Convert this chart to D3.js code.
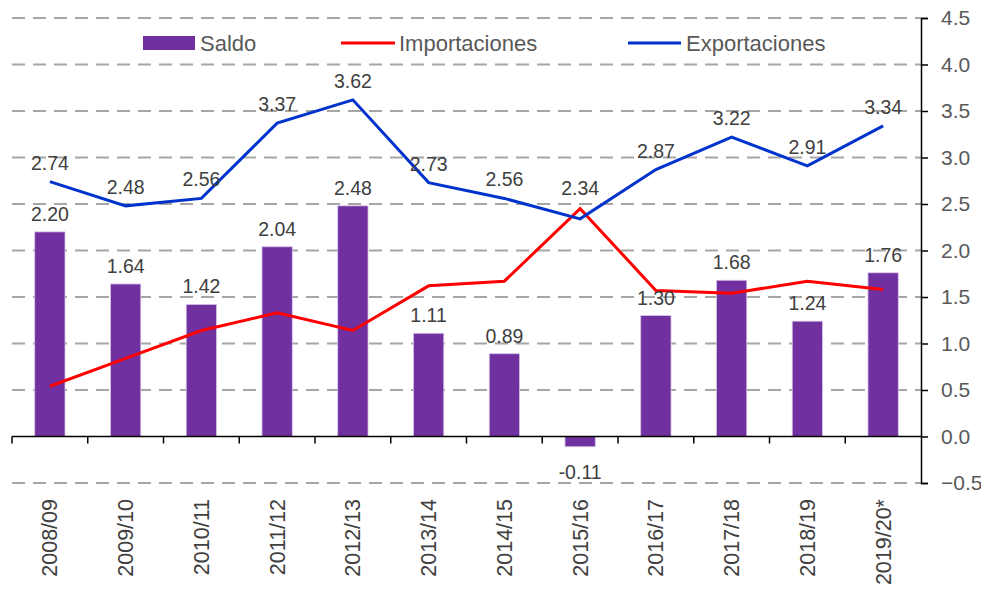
<!DOCTYPE html>
<html>
<head>
<meta charset="utf-8">
<script src="https://cdn.jsdelivr.net/npm/d3@7"></script>
<style>
  body { margin: 0; background: #fff; }
  text { font-family: "Liberation Sans", Arial, sans-serif; }
</style>
</head>
<body>
<div id="chart"></div>
<script>
// Data
const years = ["2008/09", "2009/10", "2010/11", "2011/12", "2012/13", "2013/14",
               "2014/15", "2015/16", "2016/17", "2017/18", "2018/19", "2019/20*"];
const saldo = [2.20, 1.64, 1.42, 2.04, 2.48, 1.11, 0.89, -0.11, 1.30, 1.68, 1.24, 1.76];
const importaciones = [0.54, 0.84, 1.14, 1.33, 1.14, 1.62, 1.67, 2.45, 1.57, 1.54, 1.67, 1.58];
const exportaciones = [2.74, 2.48, 2.56, 3.37, 3.62, 2.73, 2.56, 2.34, 2.87, 3.22, 2.91, 3.34];
const yTicks = [-0.5, 0, 0.5, 1, 1.5, 2, 2.5, 3, 3.5, 4, 4.5];

const width = 981, height = 592;
const plot = {left: 12, right: 921, top: 18, bottom: 483};

const svg = d3.select("#chart")
    .append("svg")
    .attr("width", width)
    .attr("height", height);

// Scales
const x = d3.scaleBand()
    .domain(years)
    .range([plot.left, plot.right])
    .paddingInner(0.6)
    .paddingOuter(0.3);

const y = d3.scaleLinear()
    .domain([-0.5, 4.5])
    .range([plot.bottom, plot.top]);

const cx = d => x(d) + x.bandwidth() / 2;

// Dashed gridlines (skip zero, that is the category axis)
svg.append("g")
    .selectAll("line")
    .data(yTicks.filter(t => t !== 0))
    .enter()
    .append("line")
    .attr("x1", plot.left)
    .attr("x2", plot.right)
    .attr("y1", d => y(d))
    .attr("y2", d => y(d))
    .attr("stroke", "#a6a6a6")
    .attr("stroke-width", 2)
    .attr("stroke-dasharray", "13,8");

// Bars
svg.append("g")
    .selectAll("rect")
    .data(years)
    .enter()
    .append("rect")
    .attr("x", d => x(d))
    .attr("y", (d, i) => y(Math.max(0, saldo[i])))
    .attr("width", x.bandwidth())
    .attr("height", (d, i) => Math.abs(y(saldo[i]) - y(0)))
    .attr("fill", "#7030a0")
    .attr("stroke", "#d8c4e6")
    .attr("stroke-width", 0.8);

// Category axis at zero
const step = x.step();
const xAxis = svg.append("g");
xAxis.append("line")
    .attr("x1", plot.left)
    .attr("x2", plot.right)
    .attr("y1", y(0))
    .attr("y2", y(0))
    .attr("stroke", "#000")
    .attr("stroke-width", 1.5);
xAxis.selectAll(".tick")
    .data(years)
    .enter()
    .append("line")
    .attr("x1", d => x(d) - step * 0.3)
    .attr("x2", d => x(d) - step * 0.3)
    .attr("y1", y(0))
    .attr("y2", y(0) + 7)
    .attr("stroke", "#000")
    .attr("stroke-width", 1.5);

// Category labels, rotated
svg.append("g")
    .selectAll("text")
    .data(years)
    .enter()
    .append("text")
    .attr("transform", d => `translate(${cx(d)},499)rotate(-90)`)
    .attr("dy", "0.35em")
    .attr("text-anchor", "end")
    .attr("fill", "#404040")
    .style("font-size", "21.5px")
    .text(d => d);

// Right value axis
const yAxis = d3.axisRight(y)
    .tickValues(yTicks)
    .tickSize(7)
    .tickPadding(13)
    .tickFormat(d3.format(".1f"));

const gy = svg.append("g")
    .attr("transform", `translate(${plot.right},0)`)
    .call(yAxis);
gy.select(".domain").attr("stroke", "#000").attr("stroke-width", 1.5);
gy.selectAll(".tick line").attr("stroke", "#000").attr("stroke-width", 1.5);
gy.selectAll(".tick text")
    .attr("fill", "#595959")
    .style("font-size", "21px")
    .style("font-family", "Liberation Sans, Arial, sans-serif");

// Lines
const line = d3.line()
    .x((d, i) => cx(years[i]))
    .y(d => y(d));

svg.append("path")
    .datum(importaciones)
    .attr("d", line)
    .attr("fill", "none")
    .attr("stroke", "#ff0000")
    .attr("stroke-width", 3);

svg.append("path")
    .datum(exportaciones)
    .attr("d", line)
    .attr("fill", "none")
    .attr("stroke", "#0033cc")
    .attr("stroke-width", 3);

// Data labels for bars
svg.append("g")
    .selectAll("text")
    .data(saldo)
    .enter()
    .append("text")
    .attr("x", (d, i) => cx(years[i]))
    .attr("y", d => d >= 0 ? y(d) - 11 : y(d) + 32)
    .attr("text-anchor", "middle")
    .attr("fill", "#404040")
    .style("font-size", "19.5px")
    .text(d => d.toFixed(2));

// Data labels for exports (2015/16 label sits higher to clear the red line)
svg.append("g")
    .selectAll("text")
    .data(exportaciones)
    .enter()
    .append("text")
    .attr("x", (d, i) => cx(years[i]))
    .attr("y", (d, i) => y(d) - (years[i] === "2015/16" ? 24 : 12))
    .attr("text-anchor", "middle")
    .attr("fill", "#404040")
    .style("font-size", "19.5px")
    .text(d => d.toFixed(2));

// Legend
const legend = svg.append("g").style("font-size", "22px");
legend.append("rect")
    .attr("x", 143).attr("y", 36)
    .attr("width", 52).attr("height", 14)
    .attr("fill", "#7030a0");
legend.append("text")
    .attr("x", 200).attr("y", 43).attr("dy", "0.35em")
    .attr("fill", "#595959").text("Saldo");
legend.append("line")
    .attr("x1", 341).attr("x2", 395).attr("y1", 43).attr("y2", 43)
    .attr("stroke", "#ff0000").attr("stroke-width", 3);
legend.append("text")
    .attr("x", 399).attr("y", 43).attr("dy", "0.35em")
    .attr("fill", "#595959").text("Importaciones");
legend.append("line")
    .attr("x1", 628).attr("x2", 681).attr("y1", 43).attr("y2", 43)
    .attr("stroke", "#0033cc").attr("stroke-width", 3);
legend.append("text")
    .attr("x", 686).attr("y", 43).attr("dy", "0.35em")
    .attr("fill", "#595959").text("Exportaciones");
</script>
</body>
</html>
